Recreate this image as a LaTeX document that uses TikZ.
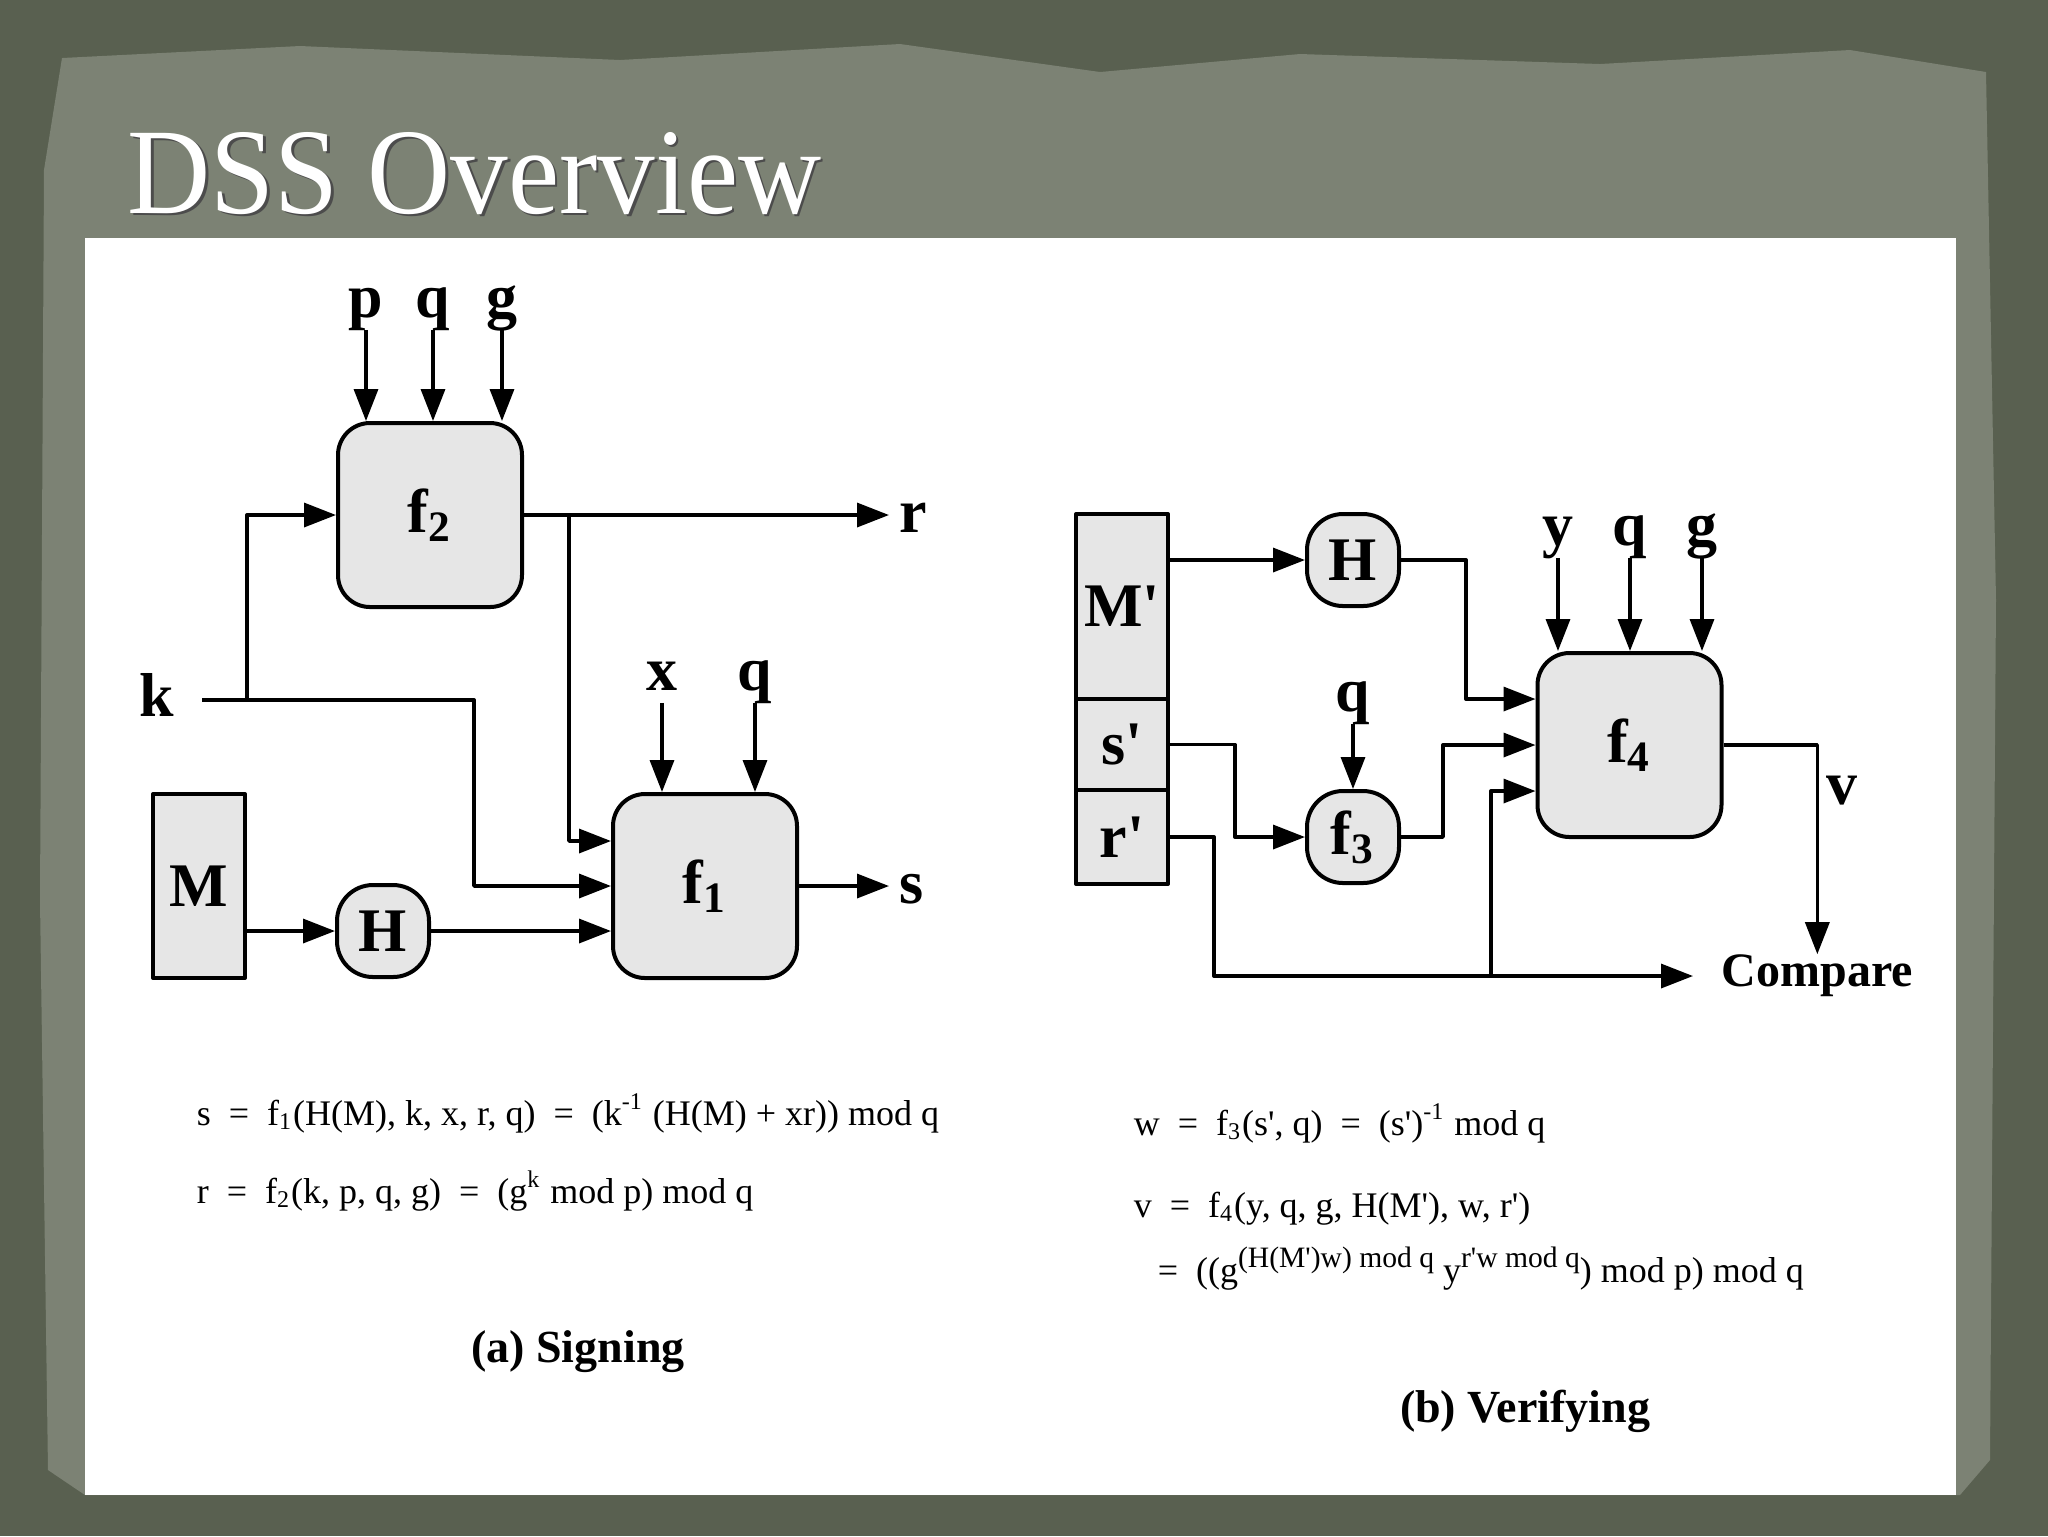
\documentclass[tikz,border=0pt]{standalone}
\usepackage{fontspec}
\setmainfont{Liberation Serif}
\usetikzlibrary{arrows.meta,positioning}
\definecolor{boxgray}{HTML}{E6E6E6}
\definecolor{slate}{HTML}{596050}
\definecolor{panel}{HTML}{7C8274}
\newcommand{\lblfont}{\bfseries\fontsize{15.5}{18}\selectfont}
\newcommand{\eqfont}{\fontsize{9}{11}\selectfont}
\newcommand{\bigsup}[1]{\raisebox{0.85ex}{\fontsize{7.4}{9}\selectfont #1}}
\tikzset{
  every picture/.style={line join=round, >={Triangle[length=8pt,width=6pt]}},
  conn/.style={line width=0.85pt},
  block/.style={draw, line width=1pt, fill=boxgray, rounded corners=8pt, minimum width=46pt, minimum height=46pt, inner sep=0pt, font=\lblfont},
  hbox/.style={draw, line width=1pt, fill=boxgray, rounded corners=9pt, minimum width=23pt, minimum height=23pt, inner sep=0pt, font=\lblfont},
  field/.style={draw, line width=1pt, fill=boxgray, minimum width=23pt, inner sep=0pt, font=\lblfont},
  var/.style={inner sep=0pt, font=\lblfont},
  invar/.style={var, text depth=3pt, anchor=base},
  eqline/.style={anchor=base west, inner sep=0pt, font=\eqfont},
  subcap/.style={anchor=base, inner sep=0pt, font=\bfseries\fontsize{11.5}{14}\selectfont},
}

\begin{document}
\begin{tikzpicture}[x=0.25pt,y=-0.25pt]
\useasboundingbox (0,0) rectangle (2048,1536);
\fill[slate] (0,0) rectangle (2048,1536);
\fill[panel] (44,170) -- (62,58) -- (300,46) -- (620,60) -- (900,44) -- (1100,72) -- (1300,54) -- (1600,64) -- (1850,50) -- (1986,72)
  -- (1996,600) -- (1990,1460) -- (1960,1495) -- (85,1495) -- (48,1470) -- (40,900) -- cycle;
\fill[white] (85,238) rectangle (1956,1495);
\node[anchor=base west, inner sep=0pt, text=black!70, xscale=0.94, font=\fontsize{30.6}{36}\selectfont] at (129.5,215.5) {DSS Overview};
\node[anchor=base west, inner sep=0pt, text=white, xscale=0.94, font=\fontsize{30.6}{36}\selectfont] (title) at (127,213) {DSS Overview};

% (a) signing
\node[block] (f2) at (430,515) {f\textsubscript{2}};
\node[block] (f1) at (705,886) {f\textsubscript{1}};
\node[field, minimum height=46pt] (M) at (199,886) {M};
\node[hbox] (H) at (383,931) {H};
\node[invar] (p) at (366,317) {p};
\node[invar] (qa) at (433,317) {q};
\node[invar] (g) at (502,317) {g};
\node[invar] (x) at (662,690) {x};
\node[invar] (qb) at (755,690) {q};
\node[var, anchor=base] (k) at (157,716) {k};
\node[var, inner xsep=2.5pt, anchor=west] (r) at (889,518) {r};
\node[var, inner xsep=2.5pt, anchor=west] (s) at (889,889) {s};
\coordinate (kin) at (202,700);
\coordinate (kb) at (247,700);
\coordinate (kt) at (474,700);
\coordinate (rb) at (569,515);
\foreach \v in {p,qa,g} \draw[conn,->] (\v.south) -- (\v.south |- f2.north);
\foreach \v in {x,qb} \draw[conn,->] (\v.south) -- (\v.south |- f1.north);
\draw[conn,->] (kin) -- (kt) |- (f1.west);
\draw[conn,->] (kb) |- (f2.west);
\draw[conn,->] (f2.east) -- (f2.east -| r.west);
\draw[conn,->] (rb) |- ([yshift=11.25pt]f1.west);
\draw[conn,->] (M.east |- H) -- (H.west);
\draw[conn,->] (H.east) -- (H.east -| f1.west);
\draw[conn,->] (f1.east) -- (f1.east -| s.west);
\node[eqline] (eqs) at (196,1125) {s\enspace=\enspace f\textsubscript{1}(H(M), k, x, r, q)\enspace=\enspace(k\textsuperscript{-1} (H(M) + xr)) mod q};
\node[eqline] (eqr) at (196,1203) {r\enspace=\enspace f\textsubscript{2}(k, p, q, g)\enspace=\enspace(g\textsuperscript{k} mod p) mod q};
\node[subcap] (capa) at (578,1362) {(a) Signing};

% (b) verifying
\node[field, minimum height=46.25pt] (Mp) at (1122,606.5) {M\textquotesingle};
\node[field, minimum height=22.75pt] (sp) at (1122,744.5) {s\textquotesingle};
\node[field, minimum height=23.5pt] (rp) at (1122,837) {r\textquotesingle};
\node[hbox] (H2) at (1353,560) {H};
\node[hbox] (f3) at (1353,837) {f\textsubscript{3}};
\node[block] (f4) at (1629.5,745) {f\textsubscript{4}};
\node[invar] (y) at (1558,545) {y};
\node[invar] (qc) at (1630,545) {q};
\node[invar] (gb) at (1702,545) {g};
\node[invar] (qd) at (1353,711) {q};
\node[var, anchor=west] (v) at (1826,791) {v};
\node[var, inner xsep=7pt, anchor=west, font=\bfseries\fontsize{12}{14}\selectfont] (cmp) at (1693,976) {Compare};
\coordinate (hc) at (1466,560);
\coordinate (sc) at (1235,744.5);
\coordinate (fc) at (1443,837);
\coordinate (rc) at (1214,837);
\coordinate (cc) at (1491,976);
\foreach \v in {y,qc,gb} \draw[conn,->] (\v.south) -- (\v.south |- f4.north);
\draw[conn,->] (qd.south) -- (f3.north);
\draw[conn,->] (Mp.east |- H2) -- (H2.west);
\draw[conn,->] (H2.east) -- (hc) |- ([yshift=11.5pt]f4.west);
\draw[conn,->] (sp.east) -- (sc) |- (f3.west);
\draw[conn,->] (f3.east) -- (fc) |- (f4.west);
\draw[conn,->] (rp.east) -- (rc) |- (cmp.west);
\draw[conn,->] (cc) |- ([yshift=-11.5pt]f4.west);
\draw[conn,->] (f4.east) -| (cmp.north);
\node[eqline] (eqw) at (1133,1135) {w\enspace=\enspace f\textsubscript{3}(s\textquotesingle, q)\enspace=\enspace(s\textquotesingle)\textsuperscript{-1} mod q};
\node[eqline] (eqv) at (1133,1217) {v\enspace=\enspace f\textsubscript{4}(y, q, g, H(M\textquotesingle), w, r\textquotesingle)};
\node[eqline] (eqv2) at (1157,1282) {=\enspace((g\bigsup{(H(M\textquotesingle)w) mod q} y\bigsup{r\textquotesingle w mod q}) mod p) mod q};
\node[subcap] (capb) at (1525,1422) {(b) Verifying};
\end{tikzpicture}
\end{document}
